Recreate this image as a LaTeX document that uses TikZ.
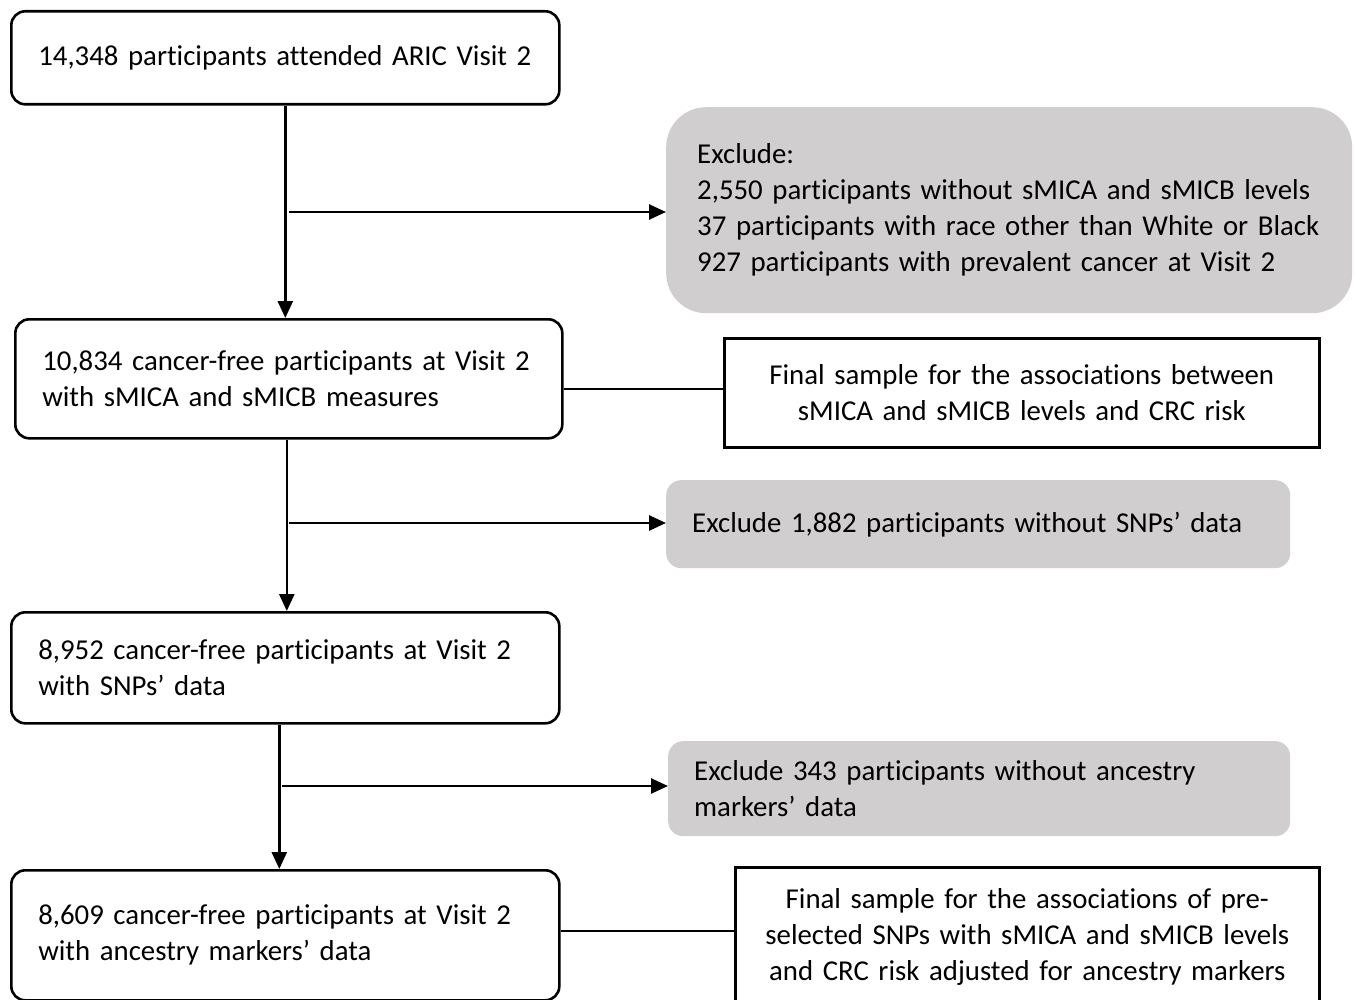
\documentclass[tikz,border=0pt]{standalone}
\usepackage{fontspec}
\setmainfont[Ligatures={NoCommon}]{Carlito}
\usetikzlibrary{arrows.meta,positioning,calc}
\definecolor{exgray}{HTML}{D0CECE}
\tikzset{
  stepbox/.style={draw, line width=2.6pt, rounded corners=14pt, align=left,
    inner xsep=27pt, inner ysep=0pt, anchor=north west},
  exbox/.style={fill=exgray, rounded corners=15pt, align=left,
    inner xsep=26pt, inner ysep=0pt, anchor=north west},
  finalbox/.style={draw, line width=2.6pt, align=center,
    inner xsep=12pt, inner ysep=0pt, anchor=north west},
  flow/.style={-{Triangle[length=17pt,width=15pt]}, line width=2.6pt},
  link/.style={line width=2pt},
}

\begin{document}
\begin{tikzpicture}[x=1pt,y=-1pt, every node/.style={font={\fontsize{28.8}{36}\selectfont\hyphenpenalty=10000}}]
\useasboundingbox (0,0) rectangle (1354,1000);
\clip (0,0) rectangle (1354,1000);
% left column
\node[stepbox, minimum height=93, text width=494] (attended) at (10,10)
  {14,348 participants attended ARIC Visit 2};
\node[stepbox, minimum height=119, text width=493] (cfree) at (14,318)
  {10,834 cancer-free participants at Visit 2\\with sMICA and sMICB measures};
\node[stepbox, minimum height=111, text width=494] (snps) at (10,611)
  {8,952 cancer-free participants at Visit 2\\with SNPs' data};
\node[stepbox, minimum height=130, text width=494] (ancestry) at (10,869)
  {8,609 cancer-free participants at Visit 2\\with ancestry markers' data};
% exclusions
\node[exbox, rounded corners=40pt, inner xsep=31pt, minimum height=206, text width=624] (exclA) at (666,107)
  {Exclude:\\2,550 participants without sMICA and sMICB levels\\37 participants with race other than White or Black\\927 participants with prevalent cancer at Visit 2};
\node[exbox, minimum height=88, text width=572] (exclSNP) at (666,480)
  {Exclude 1,882 participants without SNPs' data};
\node[exbox, minimum height=95, text width=570] (exclAnc) at (668,741)
  {Exclude 343 participants without ancestry\\markers' data};
% final samples
\node[finalbox, minimum height=109, text width=571] (finalA) at (723,337)
  {Final sample for the associations between\\sMICA and sMICB levels and CRC risk};
\node[finalbox, minimum height=140, text width=560] (finalB) at (734,866)
  {Final sample for the associations of pre-\\selected SNPs with sMICA and sMICB levels\\and CRC risk adjusted for ancestry markers};
% connectors
\coordinate (j1) at (289,212);
\coordinate (j2) at (289,523);
\coordinate (j3) at (282,786);
\draw[flow] (attended.south) -- (attended.south |- cfree.north);
\draw[flow] (j1) -- (j1 -| exclA.west);
\draw[flow] ([xshift=-2]cfree.south) -- ([xshift=-2]cfree.south |- snps.north);
\draw[flow] (j2) -- (j2 -| exclSNP.west);
\draw[flow] ([xshift=-6]snps.south) -- ([xshift=-6]snps.south |- ancestry.north);
\draw[flow] (j3) -- (j3 -| exclAnc.west);
\draw[link] ([yshift=-10]cfree.east) -- ([yshift=-10]cfree.east -| finalA.west);
\draw[link] ([yshift=4]ancestry.east) -- ([yshift=4]ancestry.east -| finalB.west);
\end{tikzpicture}
\end{document}
